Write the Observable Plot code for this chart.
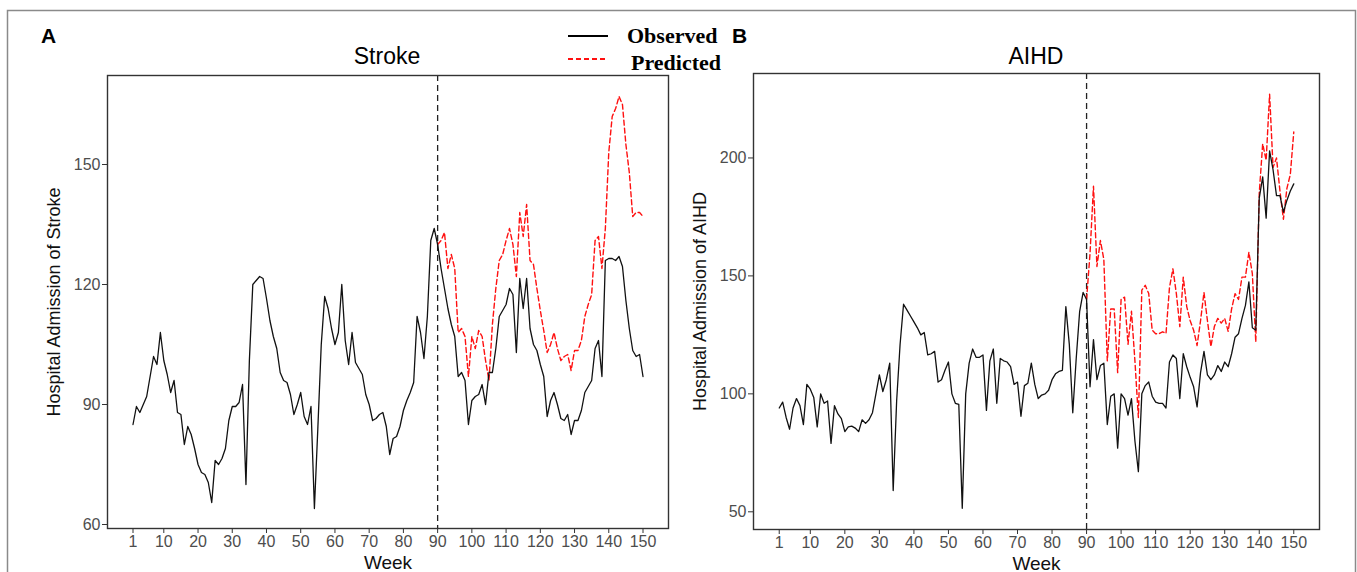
<!DOCTYPE html>
<html>
<head>
<meta charset="utf-8">
<script src="https://cdn.jsdelivr.net/npm/d3@7"></script>
<script src="https://cdn.jsdelivr.net/npm/@observablehq/plot@0.6"></script>
<style>
  html, body { margin: 0; padding: 0; background: #fff; }
  #fig { position: relative; width: 1357px; height: 572px; overflow: hidden; background: #fff;
         font-family: "Liberation Sans", Arial, sans-serif; }
  #fig > div.panel { position: absolute; top: 0; }
  #overlay { position: absolute; left: 0; top: 0; pointer-events: none; }
</style>
</head>
<body>
<div id="fig">
  <div class="panel" id="panelA" style="left:0px"></div>
  <div class="panel" id="panelB" style="left:680px"></div>
  <svg id="overlay" width="1357" height="572"></svg>
</div>
<script>
// ---------------- DATA ----------------
const weeks = d3.range(1, 151);
const predWeeks = d3.range(90, 151);
const xTicks = [1, 10, 20, 30, 40, 50, 60, 70, 80, 90, 100, 110, 120, 130, 140, 150];
const strokeTicks = [60, 90, 120, 150];
const aihdTicks = [50, 100, 150, 200];
const interventionWeek = 90;

// Stroke observed, weeks 1..150
const strokeObserved = [
  85, 89.5, 88, 90, 92, 97, 102, 100, 108, 101,
  97.5, 93, 96, 88, 87.5, 80, 84.5, 82.5, 79, 75,
  73, 72.5, 70.5, 65.5, 76, 75, 76.5, 79, 86, 89.5,
  89.5, 90.5, 95, 70, 101, 120, 121, 122, 121.5, 116.5,
  111, 107, 104, 98, 96, 95.5, 92.5, 87.5, 90, 93,
  87, 85, 89.5, 64, 84, 105, 117, 114, 109, 105,
  108, 120, 106, 100, 108, 100.5, 99, 97.5, 92.5, 90,
  86, 86.5, 87.5, 88, 84.5, 77.5, 81.5, 82, 84.5, 88.5,
  91, 93, 95.5, 112, 108, 101.5, 112, 131, 134, 130,
  124, 119, 114, 110, 107, 97, 98, 96, 85, 91,
  92, 92.5, 95, 90, 98, 98, 104, 112, 113.5, 115,
  119, 117.5, 103, 121.5, 114, 121.5, 109, 105, 103.5, 100,
  97, 87, 91, 93, 90, 86.5, 86, 87.5, 82.5, 86,
  86, 88.5, 93, 94.5, 96, 104, 106, 97, 126, 126.5,
  126.5, 126, 127, 124.5, 116, 109, 103.5, 102, 102.5, 97
];
// Stroke predicted, weeks 90..150
const strokePredicted = [
  130, 131, 133, 124, 127.5, 124, 108, 109, 107, 97, 107,
  104, 108.5, 107, 101, 96, 110, 119, 126, 127.5, 131,
  134, 130, 122, 138, 132, 140, 126, 125, 119, 113.5,
  108.5, 103, 105, 108, 104, 101, 102, 102.5, 98.5, 103.5,
  103.5, 106, 112, 115, 117.5, 131, 132, 124, 134, 153,
  162, 164, 167, 165, 155, 148, 137, 138, 138, 137
];
// AIHD observed, weeks 1..150
const aihdObserved = [
  94, 96.5, 90, 85, 94, 98, 95, 87, 104, 102,
  98.5, 86, 100, 96, 97, 79, 95, 91.5, 89.5, 84,
  86, 86.3, 85.5, 84, 89, 87.5, 89, 92, 100, 108,
  101, 106, 113, 59, 97, 121, 138, 135.5, 133, 130.5,
  128, 125, 126, 116.5, 117, 118, 105, 106, 110, 113.5,
  100, 96, 95.5, 51.5, 100, 113, 119, 115.5, 115.5, 116.5,
  93, 114, 119, 96, 115, 114, 113.5, 111.5, 104, 105,
  90.5, 103.5, 104.5, 113, 104, 98, 99.5, 100, 101.5, 106,
  108.5, 109.5, 110, 137, 121, 92, 115, 135, 143, 140,
  103, 123, 106, 112, 113, 87, 99, 100, 77, 100,
  98, 91, 98, 80, 67, 100, 103.5, 105, 99, 96.5,
  96, 96, 94, 113.5, 116.5, 115, 98, 117, 111.5, 107,
  103, 94.5, 109, 118, 108, 106, 108, 112, 109.5, 113.5,
  111.5, 117, 124, 125.5, 132, 137.5, 147.5, 128, 127, 183,
  192, 174.5, 203, 195, 184, 184, 177, 182, 186, 189
];
// AIHD predicted, weeks 90..150
const aihdPredicted = [
  140, 159.5, 188, 154, 165, 157, 114, 136, 136, 109, 140,
  141, 121, 135, 114, 90, 144, 146, 142.5, 127, 125.5,
  125.5, 126.3, 125.6, 145, 153, 142.5, 128.5, 149.5, 137, 131,
  127, 120.5, 131, 143, 131, 120, 128.5, 132, 130, 132,
  126.5, 136, 142.5, 140, 149.5, 149.5, 160, 151, 122, 185,
  206, 199, 227, 196, 200, 186, 174, 187, 193, 211
];

// ---------------- DRAW ----------------
const FONT = "'Liberation Sans', Arial, Helvetica, sans-serif";

function panel({obs, pred, yDomain, yTicks, yTitle, width, margins}) {
  const obsData = weeks.map((w, i) => ({week: w, value: obs[i]}));
  const predData = predWeeks.map((w, i) => ({week: w, value: pred[i]}));
  return Plot.plot({
    width, height: 572,
    marginLeft: margins[0], marginRight: margins[1], marginTop: margins[2], marginBottom: margins[3],
    style: {fontFamily: FONT, background: "transparent", overflow: "visible"},
    x: {domain: [-6.45, 157.45]},
    y: {domain: yDomain},
    marks: [
      Plot.ruleX([interventionWeek], {stroke: "#222", strokeWidth: 1.3, strokeDasharray: "6,4"}),
      Plot.line(predData, {x: "week", y: "value", stroke: "#FF1010", strokeWidth: 1.4, strokeDasharray: "5,3"}),
      Plot.line(obsData, {x: "week", y: "value", stroke: "#111", strokeWidth: 1.3}),
      Plot.frame({stroke: "#333", strokeWidth: 1.4}),
      Plot.axisX({ticks: xTicks, tickFormat: d => String(d), tickSize: 5, tickPadding: 2,
                  fontSize: 16, fill: "#4D4D4D", stroke: "#333", label: null}),
      Plot.axisY({ticks: yTicks, tickFormat: d => String(d), tickSize: 5, tickPadding: 2,
                  fontSize: 16, fill: "#4D4D4D", stroke: "#333", label: null}),
      Plot.text(["Week"], {text: d => d, frameAnchor: "bottom", textAnchor: "middle", lineAnchor: "bottom",
                           dy: 40, fontSize: 19, fill: "#111"}),
      Plot.text([yTitle], {text: d => d, frameAnchor: "left", textAnchor: "middle", lineAnchor: "middle",
                           dx: -53, rotate: -90, fontSize: 18, fill: "#111"})
    ]
  });
}

document.getElementById("panelA").appendChild(panel({
  obs: strokeObserved, pred: strokePredicted,
  yDomain: [59, 172.25], yTicks: strokeTicks,
  yTitle: "Hospital Admission of Stroke",
  width: 680, margins: [107, 12, 75, 44]
}));

document.getElementById("panelB").appendChild(panel({
  obs: aihdObserved, pred: aihdPredicted,
  yDomain: [42.5, 235.8], yTicks: aihdTicks,
  yTitle: "Hospital Admission of AIHD",
  width: 677, margins: [73, 38, 73, 43]
}));

// Overlay: figure border, panel letters, titles, legend
const ov = d3.select("#overlay");
ov.append("rect").attr("x", 7.5).attr("y", 10.5).attr("width", 1348).attr("height", 620)
  .attr("fill", "none").attr("stroke", "#8a8a8a").attr("stroke-width", 1.5);

const sans = FONT;
const serif = "'Liberation Serif', 'Times New Roman', serif";
[["A", 41, 43], ["B", 732, 43]].forEach(([t, x, y]) =>
  ov.append("text").attr("x", x).attr("y", y).attr("font-family", sans)
    .attr("font-weight", "bold").attr("font-size", 21).attr("fill", "#000").text(t));

[["Stroke", 387, 64], ["AIHD", 1036, 64]].forEach(([t, x, y]) =>
  ov.append("text").attr("x", x).attr("y", y).attr("text-anchor", "middle").attr("font-family", sans)
    .attr("font-size", 23).attr("fill", "#000").text(t));

// legend
const legend = [
  {label: "Observed", color: "#000", dash: null, y: 36, tx: 627, ty: 43},
  {label: "Predicted", color: "#FF1010", dash: "5,3", y: 59, tx: 631, ty: 70}
];
legend.forEach(d => {
  const ln = ov.append("line").attr("x1", 568).attr("x2", 608).attr("y1", d.y).attr("y2", d.y)
    .attr("stroke", d.color).attr("stroke-width", 2.2);
  if (d.dash) ln.attr("stroke-dasharray", d.dash);
  ov.append("text").attr("x", d.tx).attr("y", d.ty).attr("font-family", serif)
    .attr("font-weight", "bold").attr("font-size", 22).attr("fill", "#000").text(d.label);
});
</script>
</body>
</html>
